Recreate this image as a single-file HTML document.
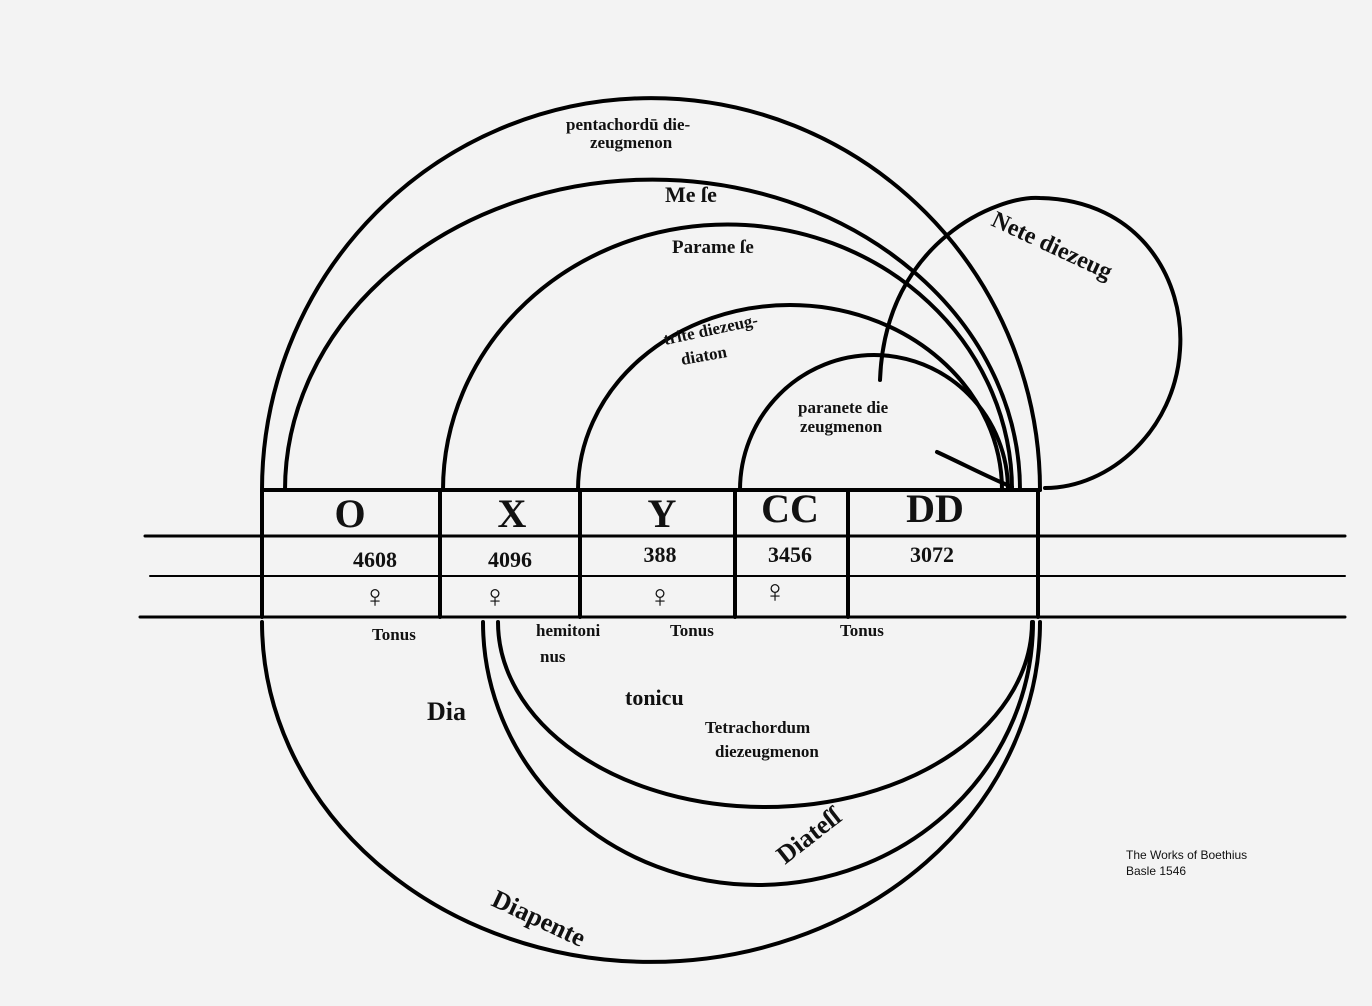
<!DOCTYPE html>
<html><head><meta charset="utf-8"><style>
html,body{margin:0;padding:0;background:#f3f3f3;}
svg{display:block}
text{font-family:"Liberation Serif",serif;font-weight:bold;fill:#111}
</style></head><body>
<svg width="1372" height="1006" viewBox="0 0 1372 1006" xmlns="http://www.w3.org/2000/svg">
<rect width="1372" height="1006" fill="#f3f3f3"/>
<g fill="none" stroke="#000" stroke-width="4" stroke-linecap="round">
<path d="M262,490 A389,392 0 0 1 1040,490"/>
<path d="M285,490 A367,310 0 0 1 1020,490"/>
<path d="M443,490 A284,265 0 0 1 1012,490"/>
<path d="M578,490 A212,185 0 0 1 1002,490"/>
<path d="M740,490 A134,135 0 0 1 1008,490"/>
<path d="M880,380 C885,240 1000,195 1040,198 C1140,200 1185,280 1180,350 C1175,430 1110,488 1045,488"/>
<path d="M937,452 C965,465 990,478 1012,487"/>
<path d="M262,490 L1040,490"/>
<path d="M145,536 L1345,536" stroke-width="3"/>
<path d="M150,576 L1345,576" stroke-width="2"/>
<path d="M140,617 L1345,617" stroke-width="3"/>
<path d="M262,490 L262,617"/><path d="M440,490 L440,617"/><path d="M580,490 L580,617"/>
<path d="M735,490 L735,617"/><path d="M848,490 L848,617"/><path d="M1038,490 L1038,617"/>
<path d="M262,622 A389,340 0 0 0 1040,622"/>
<path d="M483,622 A275,263 0 0 0 1033,622"/>
<path d="M498,622 A267,185 0 0 0 1032,622"/>
</g>
<g font-size="40" text-anchor="middle">
<text x="350" y="527">O</text><text x="512" y="527">X</text><text x="662" y="527">Y</text>
<text x="790" y="522">CC</text><text x="935" y="522">DD</text>
</g>
<g font-size="22" text-anchor="middle">
<text x="375" y="567">4608</text><text x="510" y="567">4096</text><text x="660" y="562">388</text>
<text x="790" y="562">3456</text><text x="932" y="562">3072</text>
</g>
<g font-size="32" text-anchor="middle">
<text x="375" y="607">♀</text><text x="495" y="607">♀</text><text x="660" y="607">♀</text><text x="775" y="602">♀</text>
</g>
<g font-size="17">
<text x="372" y="640">Tonus</text><text x="536" y="636">hemitoni</text><text x="540" y="662">nus</text>
<text x="670" y="636">Tonus</text><text x="840" y="636">Tonus</text>
<text x="625" y="705" font-size="22">tonicu</text>
<text x="705" y="733">Tetrachordum</text><text x="715" y="757">diezeugmenon</text>
<text x="427" y="720" font-size="26">Dia</text>
<text x="566" y="130">pentachordū die-</text><text x="590" y="148">zeugmenon</text>
<text x="665" y="202" font-size="22">Me ſe</text>
<text x="672" y="253" font-size="19">Parame ſe</text>
<text x="665" y="345" transform="rotate(-12 665 345)">trite diezeug-</text>
<text x="682" y="365" transform="rotate(-10 682 365)">diaton</text>
<text x="798" y="413">paranete die</text><text x="800" y="432">zeugmenon</text>
</g>
<text x="990" y="225" font-size="24" transform="rotate(25 990 225)">Nete diezeug</text>
<text x="785" y="865" font-size="26" transform="rotate(-38 785 865)">Diateſſ</text>
<text x="490" y="905" font-size="26" transform="rotate(25 490 905)">Diapente</text>
<text x="1126" y="859" font-size="12" style="font-family:'Liberation Sans',sans-serif;font-weight:normal">The Works of Boethius</text>
<text x="1126" y="875" font-size="12" style="font-family:'Liberation Sans',sans-serif;font-weight:normal">Basle 1546</text>
</svg>
</body></html>
